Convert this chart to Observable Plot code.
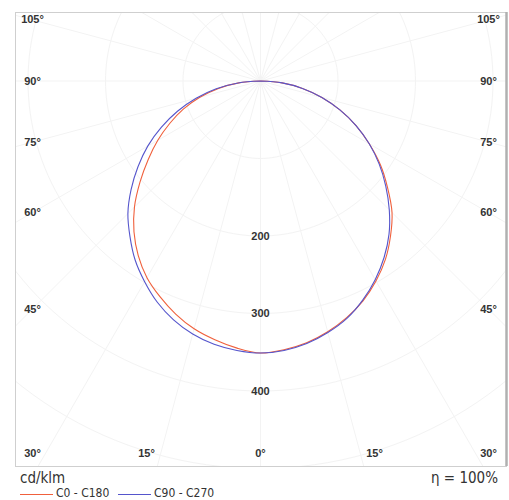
<!DOCTYPE html>
<html>
<head>
<meta charset="utf-8">
<script src="https://cdn.jsdelivr.net/npm/d3@7"></script>
<script src="https://cdn.jsdelivr.net/npm/@observablehq/plot@0.6"></script>
<style>
  html, body { margin: 0; padding: 0; background: #fff; }
  #wrap { position: relative; width: 509px; height: 500px; overflow: hidden; font-family: "Liberation Sans Narrow", "DejaVu Sans Condensed", "Liberation Sans", sans-serif; color: #333; }
  #chart { position: absolute; left: 0; top: 0; }
  .unit { position: absolute; left: 20px; top: 471px; font-size: 15px; line-height: 15px; }
  .eta { position: absolute; right: 11px; top: 471px; font-size: 15px; line-height: 15px; }
  .legend { position: absolute; top: 487px; font-size: 12px; line-height: 12px; display: flex; align-items: center; }
  .sw { display: inline-block; width: 33px; height: 0; border-top: 1px solid; margin-right: 3px; margin-top: 2px; }
</style>
</head>
<body>
<div id="wrap">
  <div id="chart"></div>
  <div class="unit">cd/klm</div>
  <div class="eta">η = 100%</div>
  <div class="legend" id="leg1" style="left:20px"></div>
  <div class="legend" id="leg2" style="left:118px"></div>
</div>
<script>
// ---- data (cd/klm), gamma in degrees from nadir ----
const gammas = [0, 5, 10, 15, 20, 25, 30, 35, 40, 45, 50, 55, 60, 65, 70, 75, 80, 85, 90];
const c0   = [351, 348, 343, 335, 325, 313, 298, 281, 261, 240, 214, 189, 162, 136, 109, 82, 55, 28, 0];
const c180 = [351, 346, 339, 331, 320, 307, 293, 275, 254, 230, 203, 177, 153, 129, 106, 81, 55, 28, 0];
const c90  = [351, 349, 344, 336, 326, 312, 296, 278, 258, 235, 211, 187, 162, 136, 109, 82, 55, 28, 0];
const c270 = [351, 349, 345, 338, 328, 315, 299, 282, 262, 242, 218, 193, 168, 141, 114, 86, 58, 29, 0];
const seriesNames = ["C0 - C180", "C90 - C270"];
const seriesColors = ["#f0603c", "#5555cc"];
const sideTicks = [105, 90, 75, 60, 45];
const bottomTicks = [-30, -15, 0, 15, 30];
const radialTicks = [200, 300, 400];
const gridRadii = [100, 200, 300, 400, 500, 600, 700];
const gridAngles = d3.range(0, 360, 15);

const rad = Math.PI / 180;
function curve(leftVals, rightVals, name) {
  const left = gammas.map((g, i) => ({g, v: leftVals[i], s: -1})).reverse();
  const right = gammas.map((g, i) => ({g, v: rightVals[i], s: 1}));
  return left.concat(right.slice(1)).map(d => ({
    x: d.s * d.v * Math.sin(d.g * rad),
    y: d.v * Math.cos(d.g * rad),
    name
  }));
}
const red = curve(c180, c0, seriesNames[0]);
const blue = curve(c270, c90, seriesNames[1]);

// grid geometry
const circlePts = gridRadii.flatMap(r => d3.range(0, 361, 2).map(a => ({r, x: r * Math.sin(a * rad), y: r * Math.cos(a * rad)})));
const rays = gridAngles.map(a => ({x2: 900 * Math.sin(a * rad), y2: 900 * Math.cos(a * rad)}));

// layout: px per cd/klm
const pxPer = 0.775;
const W = 509, H = 470;
const mL = 15, mR = 3, mT = 12, mB = 4;
const cx = 260, cy = 80.5;
const xDom = [-(cx - mL) / pxPer, (W - mR - cx) / pxPer];
const yDom = [-(cy - mT) / pxPer, (H - mB - cy) / pxPer];
const labelOff = 228 / pxPer;       // side label column
const bottomY = (453 - cy) / pxPer; // bottom label row

const font = "'Liberation Sans', Arial, sans-serif";
const sideY = d => (Math.abs(d - 90) < 1e-9 ? 0 : labelOff / Math.tan(d * rad));
const plot = Plot.plot({
  width: W, height: H,
  marginLeft: mL, marginRight: mR, marginTop: mT, marginBottom: mB,
  x: {domain: xDom, axis: null},
  y: {domain: yDom, reverse: true, axis: null},
  style: {fontFamily: font, background: "#fff"},
  marks: [
    Plot.line(circlePts, {x: "x", y: "y", z: "r", stroke: "#f3f3f3", strokeWidth: 1, clip: true}),
    Plot.link(rays, {x1: 0, y1: 0, x2: "x2", y2: "y2", stroke: "#f3f3f3", strokeWidth: 1, clip: true}),
    Plot.frame({stroke: "#cfcfcf"}),
    Plot.ruleX([xDom[1]], {stroke: "#b0b0b0", strokeWidth: 2.5}),
    Plot.line(red, {x: "x", y: "y", stroke: seriesColors[0], strokeWidth: 1.1, curve: "catmull-rom"}),
    Plot.line(blue, {x: "x", y: "y", stroke: seriesColors[1], strokeWidth: 1.1, curve: "catmull-rom"}),
    // side angle labels
    Plot.text(sideTicks, {x: -labelOff, y: sideY, text: d => d + "°", fontSize: 11, fontWeight: "bold", fill: "#333"}),
    Plot.text(sideTicks, {x: labelOff, y: sideY, text: d => d + "°", fontSize: 11, fontWeight: "bold", fill: "#333"}),
    // bottom angle labels
    Plot.text(bottomTicks, {x: d => d / 30 * labelOff, y: bottomY, text: d => Math.abs(d) + "°", fontSize: 11, fontWeight: "bold", fill: "#333"}),
    // radial value labels
    Plot.text(radialTicks, {x: 0, y: d => d, text: d => String(d), fontSize: 11, fontWeight: "bold", fill: "#333"})
  ]
});
document.getElementById("chart").appendChild(plot);

// legend
[["leg1", 0], ["leg2", 1]].forEach(([id, i]) => {
  const el = document.getElementById(id);
  const sw = document.createElement("span");
  sw.className = "sw";
  sw.style.borderColor = seriesColors[i];
  el.appendChild(sw);
  el.appendChild(document.createTextNode(seriesNames[i]));
});
</script>
</body>
</html>
